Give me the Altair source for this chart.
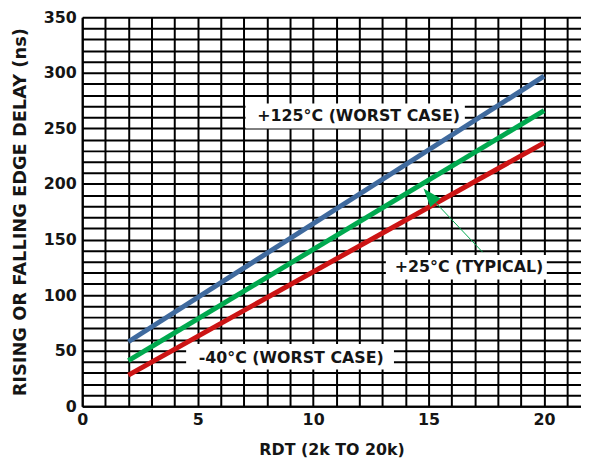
import altair as alt
import pandas as pd

# ---- data ----
rdt = [2, 20]
delay_125 = [58, 297]
delay_25 = [41, 266]
delay_m40 = [28, 237]
series_names = ["+125°C", "+25°C", "-40°C"]
series_colors = ["#3f6a9e", "#00a94f", "#cc1414"]

x_grid = list(range(0, 22))
y_grid = list(range(0, 351, 10))

# annotation labels (text, centre x, centre y, box x1, x2, y1, y2) in data units
ann_text = ["+125°C (WORST CASE)", "+25°C (TYPICAL)", "-40°C (WORST CASE)"]
ann_x = [11.97, 16.75, 9.05]
ann_y = [261, 125.5, 43]
box_x1 = [7.07, 13.15, 4.5]
box_x2 = [16.57, 20.12, 13.5]
box_y1 = [250, 114, 33]
box_y2 = [272.5, 136, 56]

# arrow for the typical curve
arrow_x = [17.34, 15.29]
arrow_y = [138.6, 183.5]
arrow_tip_x = [14.78]
arrow_tip_y = [195.9]

FONT = "DejaVu Sans"

lines_df = pd.DataFrame({
    "rdt": rdt * 3,
    "delay": delay_125 + delay_25 + delay_m40,
    "series": [series_names[0]] * 2 + [series_names[1]] * 2 + [series_names[2]] * 2,
})
ann_df = pd.DataFrame({"text": ann_text, "x": ann_x, "y": ann_y,
                       "x1": box_x1, "x2": box_x2, "y1": box_y1, "y2": box_y2})
arrow_df = pd.DataFrame({"x": arrow_x, "y": arrow_y})
tip_df = pd.DataFrame({"x": arrow_tip_x, "y": arrow_tip_y})

xscale = alt.Scale(domain=[0, 21.6], nice=False, zero=False)
yscale = alt.Scale(domain=[0, 350], nice=False)

xaxis = alt.Axis(values=x_grid, labelExpr="datum.value % 5 == 0 ? datum.label : ''",
                 title="RDT (2k TO 20k)", grid=True, ticks=False, labelPadding=6,
                 titlePadding=14, labelOverlap=False, labelFlush=False, titleFontSize=16)
yaxis = alt.Axis(values=y_grid, labelExpr="datum.value % 50 == 0 ? datum.label : ''",
                 title="RISING OR FALLING EDGE DELAY (ns)", grid=True, ticks=False,
                 labelPadding=6, titlePadding=14, labelOverlap=False, labelFlush=False,
                 titleFontSize=18)


def X(field):
    return alt.X(field, type="quantitative", scale=xscale, axis=xaxis)


def Y(field):
    return alt.Y(field, type="quantitative", scale=yscale, axis=yaxis)


lines = alt.Chart(lines_df).mark_line(strokeWidth=5, strokeCap="butt").encode(
    x=X("rdt"),
    y=Y("delay"),
    color=alt.Color("series:N", scale=alt.Scale(domain=series_names, range=series_colors),
                    legend=None),
    detail="series:N",
)

boxes = alt.Chart(ann_df).mark_rect(color="white").encode(
    x=X("x1"), x2="x2:Q",
    y=Y("y1"), y2="y2:Q",
)

texts = alt.Chart(ann_df).mark_text(font=FONT, fontWeight="bold", fontSize=16,
                                    color="#151515").encode(
    x=X("x"), y=Y("y"), text="text:N"
)

arrow = alt.Chart(arrow_df).mark_line(color="#00a94f", strokeWidth=1).encode(
    x=X("x"), y=Y("y")
)
tip = alt.Chart(tip_df).mark_point(
    shape="M0,0L0.72,2L-0.72,2Z", size=353, angle=320, filled=True,
    color="#00a94f", opacity=1, strokeWidth=0
).encode(x=X("x"), y=Y("y"))

chart = alt.layer(boxes, lines, texts, arrow, tip).properties(
    width=504, height=393,
    autosize=alt.AutoSizeParams(type="none"),
    padding={"left": 75, "top": 7, "right": 0, "bottom": 52},
).configure_view(stroke=None).configure_axis(
    gridColor="black", gridWidth=2, gridOpacity=1,
    domainColor="black", domainWidth=2,
    labelFont=FONT, labelFontWeight="bold", labelFontSize=16, labelColor="#151515",
    titleFont=FONT, titleFontWeight="bold", titleColor="#151515",
)

chart.save("out.html", embed_options={"renderer": "svg", "actions": False})
